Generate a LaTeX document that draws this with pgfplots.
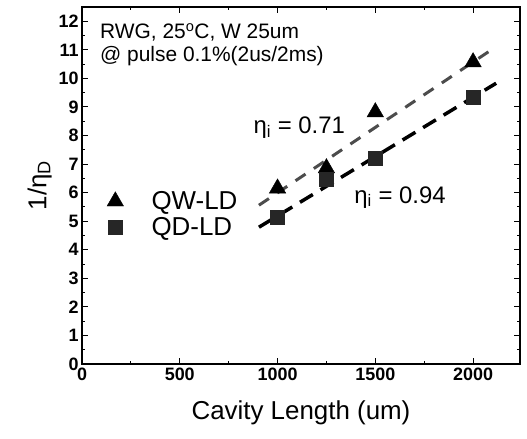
\documentclass[border=0pt]{standalone}
\usepackage{pgfplots}
\pgfplotsset{compat=1.18}
\usepackage{fontspec}
\setmainfont{Liberation Sans}
\begin{document}
\begin{tikzpicture}
\begin{axis}[
  width=438bp, height=357bp, scale only axis,
  xmin=0, xmax=2240, ymin=0, ymax=12.5,
  xtick={0,500,1000,1500,2000}, minor x tick num=1,
  ytick={0,1,...,12}, minor y tick num=1,
  tick align=inside, major tick length=6bp, minor tick length=3bp,
  axis line style={line width=1.2bp},
  every tick/.style={black, line width=1bp},
  /pgf/number format/assume math mode=true,
  /pgf/number format/set thousands separator={},
  ticklabel style={font=\fontsize{18}{20}\selectfont\bfseries},
  xlabel={Cavity Length (um)},
  ylabel={1/η\textsubscript{D}},
  label style={font=\fontsize{26}{28}\selectfont},
  xlabel style={yshift=-14bp},
  ylabel style={yshift=0bp},
  legend style={at={(axis description cs:0.05,0.42)}, anchor=west, draw=none, fill=none,
    font=\fontsize{26}{28}\selectfont, row sep=2bp,
    /tikz/every odd column/.append style={column sep=26bp}},
  legend cell align=left,
]
% fit lines
\addplot[black!70, line width=3bp, dash pattern=on 12bp off 10bp, forget plot] coordinates {(905,5.56) (2113,11.09)};
\addplot[black, line width=3.5bp, dash pattern=on 15bp off 9bp, forget plot] coordinates {(905,4.79) (2118,9.83)};
% data
\addplot[only marks, mark=triangle*, mark size=9.5bp, black] coordinates {(1000,6.15) (1250,6.86) (1500,8.82) (2000,10.57)};
\addlegendentry{QW-LD}
\addplot[only marks, mark=square*, mark size=7bp, black!85] coordinates {(1000,5.14) (1250,6.47) (1500,7.21) (2000,9.34)};
\addlegendentry{QD-LD}
\node[anchor=west, font=\fontsize{24}{26}\selectfont] at (axis cs:860,8.26) {η\textsubscript{i} = 0.71};
\node[anchor=west, font=\fontsize{24}{26}\selectfont] at (axis cs:1375,5.84) {η\textsubscript{i} = 0.94};
\node[anchor=north west, align=left, inner sep=0pt, font=\fontsize{21}{23}\selectfont] at (axis description cs:0.041,0.955) {RWG, 25\textsuperscript{o}C, W 25um\\@ pulse 0.1\%(2us/2ms)};
\end{axis}
\pgfresetboundingbox
\path[use as bounding box] ([xshift=-82bp,yshift=-75bp]current axis.south west) rectangle ([xshift=7bp,yshift=7bp]current axis.north east);
\end{tikzpicture}
\end{document}
